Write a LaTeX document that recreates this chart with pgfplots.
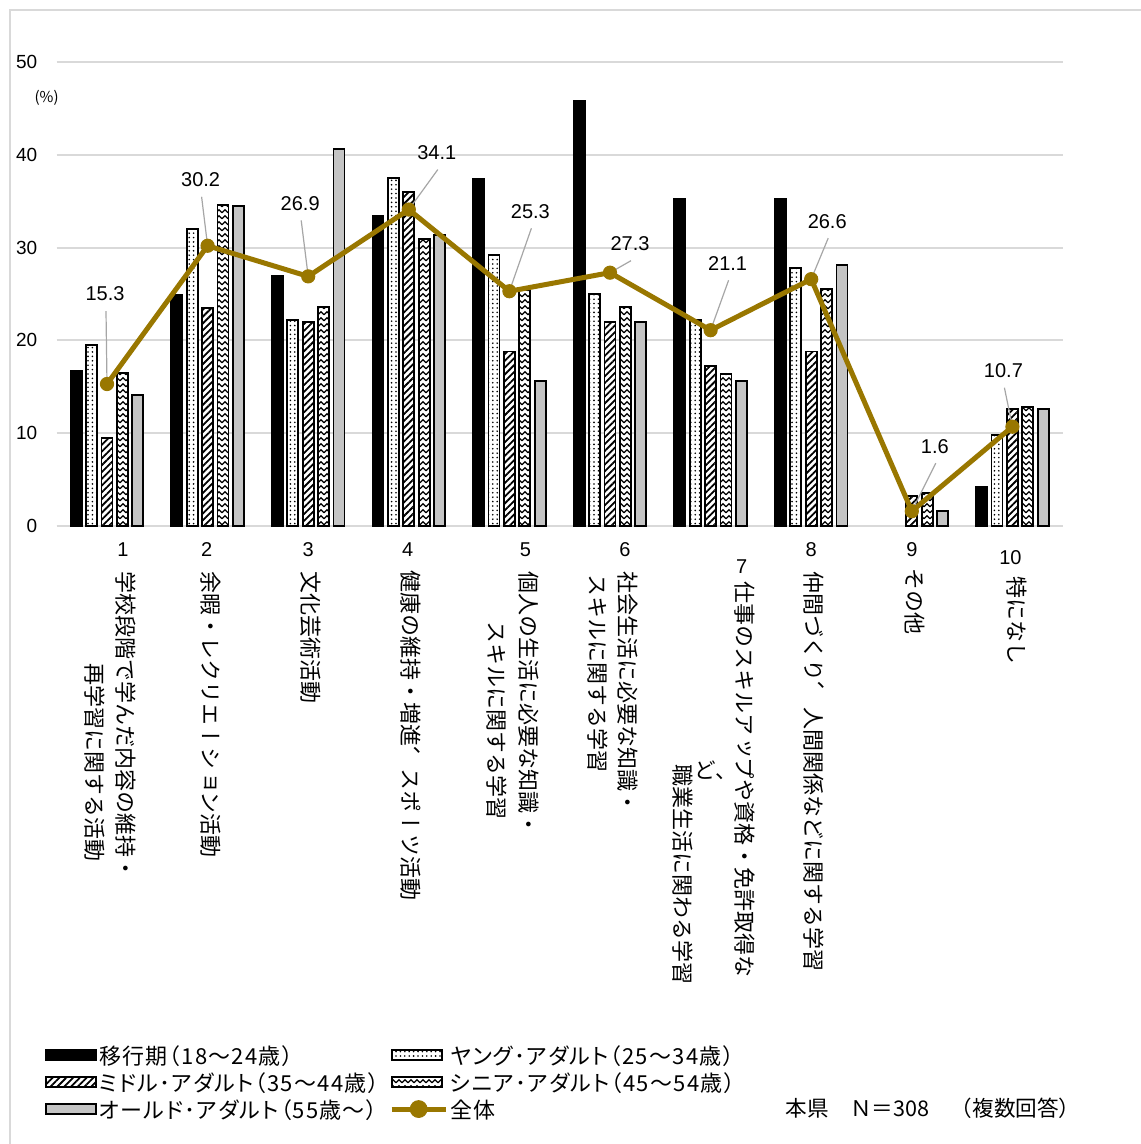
\documentclass[border=0pt]{standalone}
\usepackage{fontspec}
\usepackage{pgfplots}
\usepackage{pgfplotstable}
\pgfplotsset{compat=1.18}
\usetikzlibrary{patterns,patterns.meta,calc}
\setmainfont{Liberation Sans}
\newfontfamily\jp{Noto Sans CJK JP}
\newfontfamily\jpp[RawFeature=+palt, LetterSpace=6]{Noto Sans CJK JP}
\newfontfamily\vjp[Vertical=RotatedGlyphs]{Noto Sans CJK JP}

\definecolor{gridc}{RGB}{217,217,217}
\definecolor{barg}{RGB}{196,196,196}
\definecolor{total}{RGB}{153,119,0}
\definecolor{leader}{RGB}{166,166,166}

% wavy fill for the 45-54 group
\pgfdeclarepatternformonly{zigzag}{\pgfqpoint{-0.5pt}{-0.5pt}}{\pgfqpoint{3.5pt}{3.5pt}}{\pgfqpoint{3pt}{3pt}}{%
  \pgfsetlinewidth{0.6pt}%
  \pgfpathmoveto{\pgfqpoint{0pt}{0.6pt}}%
  \pgfpathlineto{\pgfqpoint{1.5pt}{2.1pt}}%
  \pgfpathlineto{\pgfqpoint{3pt}{0.6pt}}%
  \pgfusepath{stroke}}

\pgfplotsset{
  barlegend/.style={legend image code/.code={\draw[##1] (0pt,-1.2pt) rectangle (25pt,3.8pt);}},
  linelegend/.style={legend image code/.code={\draw[##1, mark size=4.2pt, mark repeat=2, mark phase=2]
    plot coordinates {(0pt,1.3pt) (13.5pt,1.3pt) (27pt,1.3pt)};}},
}

% one unit = one pixel of the 1140 x 1144 layout
\newlength\pu \setlength\pu{0.5pt}
% place #3 at #1 units right of the tick and #2 units below the axis line
\newcommand\lab[3]{\rlap{\kern#1\pu\raisebox{-#2\pu}[0pt][0pt]{\makebox[0pt]{#3}}}}
\newcommand\num[3]{\lab{#1}{#2}{\fontsize{10}{12}\selectfont #3}}
% vertical column of text; the rotated glyphs sit a little left of centre
\newcommand\vcol[3]{\rlap{\kern3\pu\lab{#1}{#2}{\rotatebox{-90}{\vjp\fontsize{11}{13}\selectfont #3}}}}
% upright vertical comma; #2 is its baseline below the axis
\newcommand\vcomma[2]{\rlap{\kern3\pu\lab{#1}{#2}{\jp\fontsize{11}{13}\selectfont ︑}}}

\pgfplotstableread{
x  trans young middle senior old  total
1  16.7  19.5  9.5    16.5   14.1 15.3
2  24.9  32.0  23.5   34.6   34.5 30.2
3  27.0  22.2  22.0   23.6   40.6 26.9
4  33.4  37.5  36.0   30.9   31.4 34.1
5  37.4  29.2  18.8   25.4   15.6 25.3
6  45.8  25.0  22.0   23.6   22.0 27.3
7  35.3  22.2  17.2   16.4   15.6 21.1
8  35.3  27.8  18.8   25.5   28.1 26.6
9  nan   nan   3.2    3.6    1.6  1.6
10 4.2   9.8   12.6   12.8   12.6 10.7
}\data

% value label with a leader line: x, value, label offset (dx, dy) in units
\newcommand\dlab[4]{%
  \draw[leader, line width=0.6pt, shorten <=3pt]
    (axis cs:#1,#2) -- ($(axis cs:#1,#2)+(#3\pu+0.5pt,#4\pu-8.5pt)$);
  \node[font=\fontsize{10}{12}\selectfont, inner sep=0pt]
    at ($(axis cs:#1,#2)+(#3\pu,#4\pu)$) {#2};}

\begin{document}
\begin{tikzpicture}[x=1pt,y=1pt]
\useasboundingbox (0,0) rectangle (570,-572);
\draw[gridc, line width=1pt] (5,-600) -- (5,-5) -- (600,-5);

\begin{axis}[
  at={(28.35pt,-263pt)}, anchor=south west,
  scale only axis, width=503pt, height=232pt,
  xmin=0.5, xmax=10.5, ymin=0, ymax=50,
  axis x line*=bottom, axis y line*=left,
  x axis line style={-, draw=gridc, line width=1pt},
  y axis line style={draw=none},
  ytick={0,10,...,50}, ymajorgrids,
  grid style={gridc, line width=1pt},
  major tick length=0pt,
  /pgf/number format/assume math mode=true,
  yticklabel style={font=\fontsize{9.5}{11}\selectfont, xshift=-6.2pt},
  xtick={1,...,10},
  xticklabel style={anchor=north, inner sep=0pt},
  xticklabels={
    {\num{16}{29}{1}\vcol{16}{44}{学校段階で学んだ内容の維持・}\vcol{-15}{136}{再学習に関する活動}},
    {\num{-1}{29}{2}\vcol{0}{44}{余暇・レクリエーション活動}},
    {\num{0}{29}{3}\vcol{0}{44}{文化芸術活動}},
    {\num{-1}{29}{4}\vcol{-1}{43}{健康の維持・増進}\vcomma{-1}{238}\vcol{-1}{241}{スポーツ活動}},
    {\num{16}{29}{5}\vcol{16}{44}{個人の生活に必要な知識・}\vcol{-16}{94}{スキルに関する学習}},
    {\num{15}{29}{6}\vcol{15}{44}{社会生活に必要な知識・}\vcol{-15}{47}{スキルに関する学習}},
    {\num{31}{46}{7}\vcol{31}{54}{仕事のスキルアップや資格・免許取得な}\lab{5}{251}{\jp\fontsize{10.8}{13}\selectfont ど、}\vcol{-31}{237}{職業生活に関わる学習}},
    {\num{0}{29}{8}\vcol{0}{44}{仲間づくり}\vcomma{0}{173}\vcol{0}{180}{人間関係などに関する学習}},
    {\num{0}{29}{9}\vcol{0}{41}{その他}},
    {\num{-2}{37}{10}\vcol{1}{49}{特になし}}
  },
  legend columns=2,
  legend cell align=left,
  legend style={at={(-0.0116,-1.118)}, anchor=north west, draw=none,
    inner sep=0pt, column sep=0pt, row sep=1pt,
    font=\jpp\fontsize{11}{12}\selectfont,
    nodes={inner xsep=1pt, inner ysep=0.5pt, text height=9pt, text depth=2.5pt},
    /tikz/every even column/.append style={column sep=4pt}},
]
\addplot[ybar, bar width=5.5pt, bar shift=-15.4pt, fill=black, draw=black, line width=0.9pt,
  barlegend] table[x=x,y=trans]{\data};
\addlegendentry{移行期（18～24歳）}
\addplot[ybar, bar width=5.5pt, bar shift=-7.7pt, fill=white, draw=black, line width=0.9pt,
  postaction={pattern={Dots[distance=2.2pt, radius=0.45pt]}},
  barlegend] table[x=x,y=young]{\data};
\addlegendentry{ヤング･アダルト（25～34歳）}
\addplot[ybar, bar width=5.5pt, bar shift=0pt, fill=white, draw=black, line width=0.9pt,
  postaction={pattern={Lines[angle=45, distance=2.4pt, line width=0.9pt]}},
  barlegend] table[x=x,y=middle]{\data};
\addlegendentry{ミドル･アダルト（35～44歳）}
\addplot[ybar, bar width=5.5pt, bar shift=7.7pt, fill=white, draw=black, line width=0.9pt,
  postaction={pattern=zigzag},
  barlegend] table[x=x,y=senior]{\data};
\addlegendentry{シニア･アダルト（45～54歳）}
\addplot[ybar, bar width=5.5pt, bar shift=15.4pt, fill=barg, draw=black, line width=0.9pt,
  barlegend] table[x=x,y=old]{\data};
\addlegendentry{オールド･アダルト（55歳～）}
\addplot[total, line width=2.5pt, mark=*, mark size=3.3pt,
  mark options={fill=total, draw=total, line width=0.5pt},
  linelegend] table[x=x,y=total]{\data};
\addlegendentry{全体}

\dlab{1}{15.3}{-2}{90}
\dlab{2}{30.2}{-7}{66}
\dlab{3}{26.9}{-8}{73}
\dlab{4}{34.1}{28}{57}
\dlab{5}{25.3}{21}{80}
\dlab{6}{27.3}{20}{29}
\dlab{7}{21.1}{17}{67}
\dlab{8}{26.6}{16}{58}
\dlab{9}{1.6}{23}{65}
\dlab{10}{10.7}{-9}{56}
\end{axis}

\node[font=\jp\fontsize{7.5}{9}\selectfont, inner sep=0pt] at (23.3,-49) {(\%)};
\node[font=\jp\fontsize{10.8}{12}\selectfont, anchor=west, inner sep=0pt] at (392.5,-554) {本県　Ｎ＝308　（複数回答）};
\end{tikzpicture}
\end{document}
